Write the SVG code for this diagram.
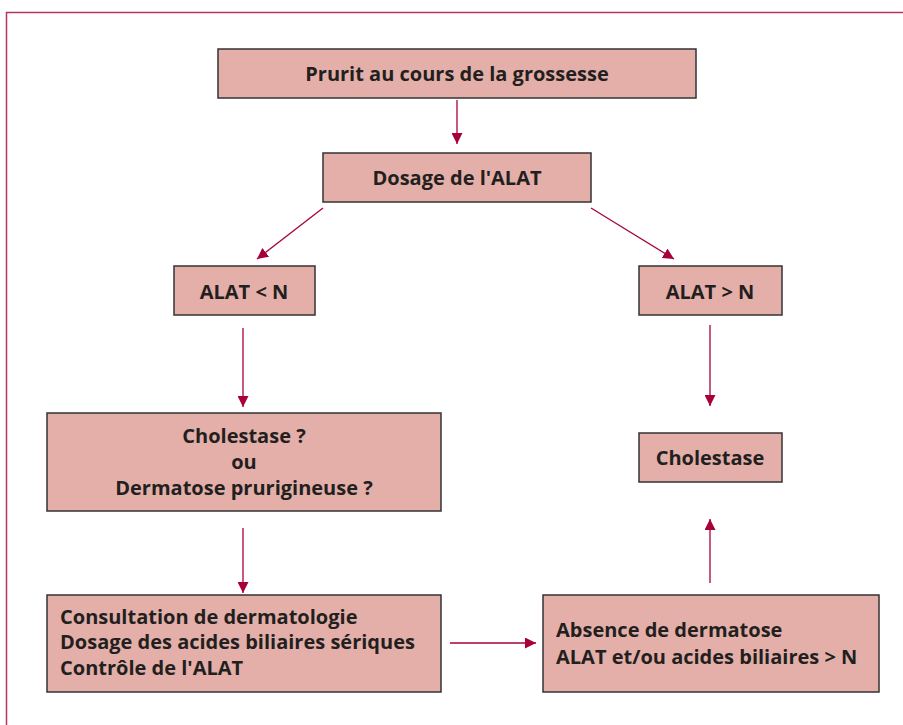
<svg xmlns="http://www.w3.org/2000/svg" width="903" height="725" viewBox="0 0 903 725">
<defs>
<style>
.box{fill:#e3afa8;stroke:#333;stroke-width:1.5}
.t{font-family:"Open Sans","Noto Sans","Liberation Sans",sans-serif;font-weight:bold;font-size:20px;fill:#231f20}
.c{text-anchor:middle}
.e{stroke:#a8003a;stroke-width:1.3;fill:none;marker-end:url(#ah)}
</style>
<marker id="ah" viewBox="0 0 10 10" refX="10" refY="5" markerWidth="11" markerHeight="11" markerUnits="userSpaceOnUse" orient="auto">
<path d="M0,0 L10,5 L0,10 z" fill="#a8003a"/>
</marker>
</defs>
<rect x="0" y="0" width="903" height="725" fill="#fff"/>
<path d="M6.5,725 V12.5 H903" fill="none" stroke="#b5355e" stroke-width="1.5"/>
<g id="edges">
<line class="e" x1="457" y1="100" x2="457" y2="144"/>
<line class="e" x1="323" y1="208" x2="257" y2="259"/>
<line class="e" x1="591" y1="208" x2="674" y2="259"/>
<line class="e" x1="243" y1="328" x2="243" y2="407"/>
<line class="e" x1="710" y1="325" x2="710" y2="406"/>
<line class="e" x1="243" y1="528" x2="243" y2="593"/>
<line class="e" x1="450" y1="643" x2="536" y2="643"/>
<line class="e" x1="710" y1="583" x2="710" y2="519"/>
</g>
<g id="n1"><rect class="box" x="218" y="49" width="478" height="49"/><text class="t c" x="457" y="81">Prurit au cours de la grossesse</text></g>
<g id="n2"><rect class="box" x="323" y="153" width="268" height="49"/><text class="t c" x="457" y="185">Dosage de l'ALAT</text></g>
<g id="n3"><rect class="box" x="174" y="266" width="141" height="49"/><text class="t c" x="244" y="299">ALAT &lt; N</text></g>
<g id="n4"><rect class="box" x="639" y="266" width="143" height="49"/><text class="t c" x="710" y="299">ALAT &gt; N</text></g>
<g id="n5"><rect class="box" x="47" y="413" width="394" height="98"/><text class="t c" x="244" y="443">Cholestase ?</text><text class="t c" x="244" y="469">ou</text><text class="t c" x="244" y="495">Dermatose prurigineuse ?</text></g>
<g id="n6"><rect class="box" x="639" y="433" width="143" height="49"/><text class="t c" x="710" y="465">Cholestase</text></g>
<g id="n7"><rect class="box" x="47" y="595" width="394" height="97"/><text class="t" x="60" y="624">Consultation de dermatologie</text><text class="t" x="60" y="649">Dosage des acides biliaires sériques</text><text class="t" x="60" y="675">Contrôle de l'ALAT</text></g>
<g id="n8"><rect class="box" x="543" y="595" width="336" height="97"/><text class="t" x="556" y="637">Absence de dermatose</text><text class="t" x="556" y="664">ALAT et/ou acides biliaires &gt; N</text></g>
</svg>
